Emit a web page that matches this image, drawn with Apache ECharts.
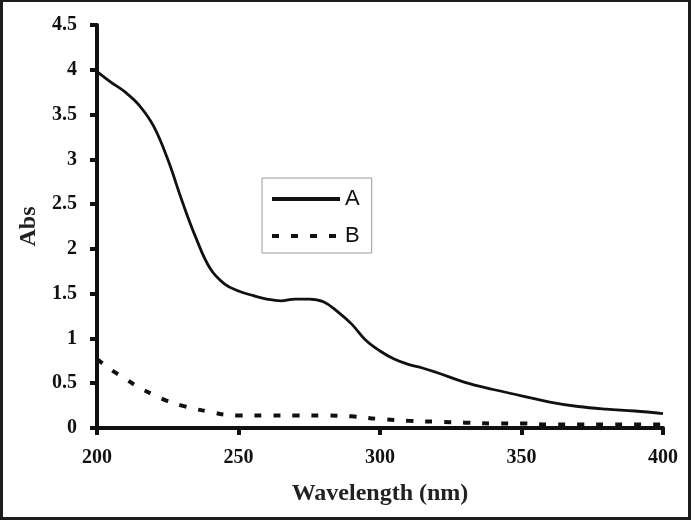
<!DOCTYPE html>
<html>
<head>
<meta charset="utf-8">
<script src="https://cdn.jsdelivr.net/npm/echarts@6/dist/echarts.min.js"></script>
<style>
html,body{margin:0;padding:0;}
body{width:691px;height:520px;background:#1c1c1c;position:relative;overflow:hidden;}
#c{position:absolute;left:3px;top:2px;width:685px;height:515px;background:#fff;}
</style>
</head>
<body>
<div id="c"></div>
<script>
var wavelengthA = [200,205,210,215,220,225,230,235,240,245,250,255,260,265,270,275,280,285,290,295,300,305,310,315,320,330,340,350,360,370,380,390,400];
var absA = [3.98,3.86,3.75,3.6,3.37,3.0,2.54,2.12,1.78,1.61,1.53,1.48,1.44,1.42,1.44,1.44,1.41,1.30,1.16,0.98,0.86,0.77,0.71,0.67,0.62,0.51,0.43,0.36,0.29,0.24,0.21,0.19,0.16];
var wavelengthB = [200,205,210,215,220,225,230,235,240,245,250,260,270,280,290,300,310,320,330,340,350,360,370,380,390,400];
var absB = [0.77,0.65,0.55,0.45,0.37,0.30,0.25,0.21,0.18,0.15,0.14,0.14,0.14,0.14,0.13,0.10,0.08,0.07,0.06,0.05,0.05,0.04,0.04,0.04,0.04,0.04];
var seriesNames = ['A','B'];
var xTicks = [200,250,300,350,400];
var yTicks = [0,0.5,1,1.5,2,2.5,3,3.5,4,4.5];

function pairs(xs, ys){ return xs.map(function(x,i){ return [x, ys[i]]; }); }

var chart = echarts.init(document.getElementById('c'), null, {renderer:'canvas'});
var labelFont = {fontFamily:'Liberation Serif', fontWeight:'bold', fontSize:20, color:'#111'};
chart.setOption({
  animation:false,
  backgroundColor:'#fff',
  grid:{left:94, right:25, top:23, bottom:89, containLabel:false},
  legend:{
    data:seriesNames,
    orient:'vertical',
    left:259, top:176,
    padding:[10,12,6,8],
    itemGap:15,
    itemWidth:68, itemHeight:20,
    itemStyle:{opacity:0},
    lineStyle:{width:4},
    borderColor:'#9a9a9a', borderWidth:1,
    textStyle:{fontFamily:'Liberation Sans', fontSize:22, color:'#111'}
  },
  xAxis:{
    type:'value', min:200, max:400, interval:50,
    name:'Wavelength (nm)', nameLocation:'middle', nameGap:54,
    nameTextStyle:{fontFamily:'Liberation Serif', fontWeight:'bold', fontSize:24, color:'#222'},
    axisLine:{lineStyle:{color:'#111', width:4}},
    axisTick:{show:true, length:7, lineStyle:{color:'#111', width:4}},
    axisLabel:Object.assign({margin:20, formatter:function(v){return xTicks.indexOf(v)>=0?String(v):'';}}, labelFont),
    splitLine:{show:false}
  },
  yAxis:{
    type:'value', min:0, max:4.5, interval:0.5,
    name:'Abs', nameLocation:'middle', nameGap:54, nameRotate:90,
    nameTextStyle:{fontFamily:'Liberation Serif', fontWeight:'bold', fontSize:24, color:'#222'},
    axisLine:{show:true, lineStyle:{color:'#111', width:4}},
    axisTick:{show:true, length:7, lineStyle:{color:'#111', width:4}},
    axisLabel:Object.assign({margin:20, formatter:function(v){var s=String(v); return yTicks.indexOf(v)>=0?s:'';}}, labelFont),
    splitLine:{show:false}
  },
  series:[
    {name:seriesNames[0], type:'line', data:pairs(wavelengthA, absA), smooth:0.4, showSymbol:false, symbol:'none',
     lineStyle:{color:'#111', width:2.8}, itemStyle:{color:'#111'}},
    {name:seriesNames[1], type:'line', data:pairs(wavelengthB, absB), smooth:0.4, showSymbol:false, symbol:'none',
     lineStyle:{color:'#111', width:4, type:[7,12]}, itemStyle:{color:'#111'}}
  ]
});
</script>
</body>
</html>
